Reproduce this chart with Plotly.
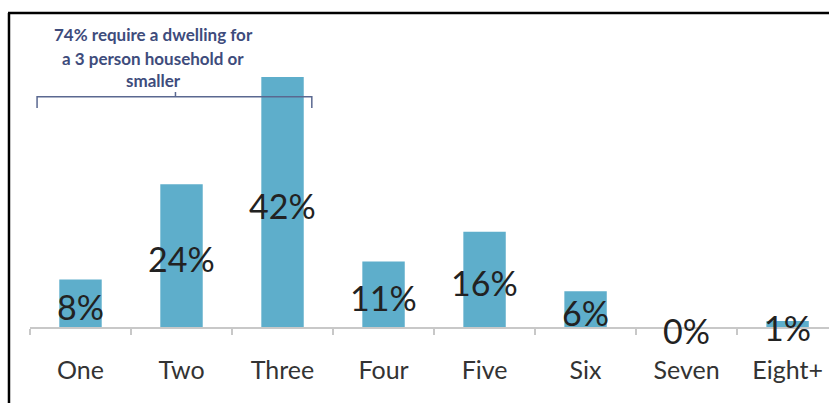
import plotly.graph_objects as go

# Household size required and share of applicants
categories = ["One", "Two", "Three", "Four", "Five", "Six", "Seven", "Eight+"]
shares = [8, 24, 42, 11, 16, 6, 0, 1]
share_labels = [f"{v}%" for v in shares]

note_lines = ["74% require a dwelling for", "a 3 person household or", "smaller"]

BAR_COLOR = "#5EAECB"
NOTE_COLOR = "#3E4C7C"

fig = go.Figure()

fig.add_trace(go.Bar(
    x=categories,
    y=shares,
    marker=dict(color=BAR_COLOR, line=dict(width=0)),
    hoverinfo="skip",
))

# Value labels centred a little below half-way up each bar
for cat, v, lab in zip(categories, shares, share_labels):
    fig.add_annotation(
        x=cat, y=v / 2, xref="x", yref="y",
        text=lab, showarrow=False,
        yshift=-3,
        font=dict(family="Lato", size=34, color="#222222"),
        xanchor="center", yanchor="middle",
    )

# Bracket spanning the one- to three-person categories
bracket_color = "#5A6890"
y_br = 38.7
fig.add_shape(type="path",
              path=f"M -0.43,{y_br - 1.9} L -0.43,{y_br} L 2.29,{y_br} L 2.29,{y_br - 1.9}",
              xref="x", yref="y", line=dict(color=bracket_color, width=1.5))
fig.add_shape(type="line", x0=0.94, x1=0.94, y0=y_br, y1=y_br + 0.8,
              xref="x", yref="y", line=dict(color=bracket_color, width=1.5))

for i, line in enumerate(note_lines):
    fig.add_annotation(
        x=0.72, xref="x",
        y=[49.2, 45.2, 41.4][i], yref="y",
        text=f"<b>{line}</b>",
        showarrow=False,
        font=dict(family="Lato", size=17, color=NOTE_COLOR),
        xanchor="center", yanchor="middle",
    )

# Black frame along the top and left edges
fig.add_shape(type="line", xref="paper", yref="paper",
              x0=-0.0275, x1=1.01, y0=1.0228, y1=1.0228,
              line=dict(color="black", width=2.5))
fig.add_shape(type="line", xref="paper", yref="paper",
              x0=-0.0263, x1=-0.0263, y0=1.0228, y1=-0.26,
              line=dict(color="black", width=2.5))

fig.update_layout(
    width=829, height=403,
    margin=dict(l=30, r=0, t=20, b=76),
    paper_bgcolor="white",
    plot_bgcolor="white",
    showlegend=False,
    bargap=0.58,
    xaxis=dict(
        range=[-0.5, 7.41],
        showgrid=False, zeroline=False,
        showline=True, linecolor="#C8C8C8", linewidth=1.5,
        ticks="outside", tickson="boundaries", ticklen=6,
        tickcolor="#C8C8C8", tickwidth=1.5,
        tickfont=dict(family="Lato", size=25, color="#333333"),
        ticklabelstandoff=20,
    ),
    yaxis=dict(
        range=[0, 51.6],
        visible=False,
    ),
)

fig.write_html("out.html")
